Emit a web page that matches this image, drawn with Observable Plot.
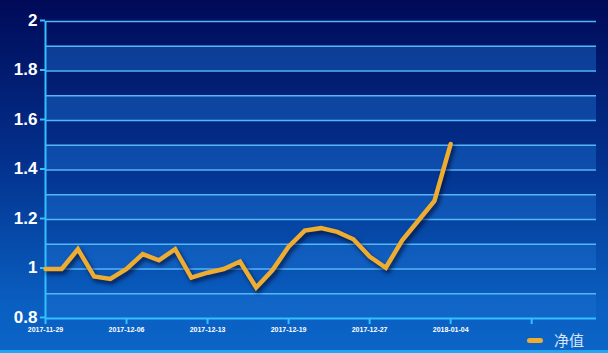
<!DOCTYPE html>
<html>
<head>
<meta charset="utf-8">
<script src="https://cdn.jsdelivr.net/npm/d3@7"></script>
<script src="https://cdn.jsdelivr.net/npm/@observablehq/plot@0.6"></script>
<style>
  html, body { margin: 0; padding: 0; }
  body { width: 608px; height: 353px; overflow: hidden; }
  #wrap {
    position: relative; width: 608px; height: 353px;
    background: linear-gradient(to bottom, #000a58 0%, #03308c 45%, #0a60c2 88%, #0b64c6 100%);
    box-sizing: border-box; border-bottom: 3px solid #1ea6f2;
    font-family: "Liberation Sans", Arial, sans-serif;
  }
  #wrap svg { position: absolute; left: 0; top: 0; background: transparent; }
  #wrap svg g[aria-label="line"] path { filter: drop-shadow(2px 3px 2px rgba(0, 5, 40, 0.7)); }
  #legend { position: absolute; left: 527px; top: 331px; display: flex; align-items: center; }
  #legend .sw { width: 16px; height: 5px; border-radius: 3px; background: #eeac30; margin-right: 11px; }
  #legend .tx { font-family: "Noto Sans CJK SC", sans-serif; font-size: 15px; color: #d8e4ff; line-height: 18px; }
</style>
</head>
<body>
<div id="wrap"><div id="legend"><div class="sw"></div><div class="tx">净值</div></div></div>
<script>
const seriesName = "净值";
const dateLabels = ["2017-11-29", "2017-12-06", "2017-12-13", "2017-12-19", "2017-12-27", "2018-01-04", ""];
const dateTickIndex = [0, 5, 10, 15, 20, 25, 30];
const values = [1.00, 1.00, 1.08, 0.97, 0.96, 1.00, 1.06, 1.035, 1.08, 0.965, 0.985, 1.00, 1.03, 0.925, 0.995,
                1.09, 1.155, 1.165, 1.15, 1.12, 1.05, 1.005, 1.115, 1.195, 1.275, 1.505];
const categoryCount = 35;
const yTicks = [0.8, 1, 1.2, 1.4, 1.6, 1.8, 2];
const gridLines = [0.9, 1.0, 1.1, 1.2, 1.3, 1.4, 1.5, 1.6, 1.7, 1.8, 1.9, 2.0];
const bands = [[0.8, 0.9], [1.0, 1.1], [1.2, 1.3], [1.4, 1.5], [1.6, 1.7], [1.8, 1.9]];

const data = values.map((v, i) => ({i, v}));
const xMax = categoryCount - 1;
const tickLabel = new Map(dateTickIndex.map((t, k) => [t, dateLabels[k]]));

const chart = Plot.plot({
  width: 608,
  height: 353,
  marginLeft: 45,
  marginRight: 12,
  marginTop: 21,
  marginBottom: 35,
  style: {background: "transparent", overflow: "visible", fontFamily: "'Liberation Sans', Arial, sans-serif"},
  x: {domain: [0, xMax]},
  y: {domain: [0.8, 2]},
  marks: [
    Plot.rect(bands, {x1: () => 0, x2: () => xMax, y1: d => d[0], y2: d => d[1], fill: "#1a6fd0", fillOpacity: 0.45}),
    Plot.ruleY(gridLines, {x1: 0, x2: xMax, stroke: "#55b6f6", strokeWidth: 1.3}),
    Plot.ruleX([0], {y1: 0.8, y2: 2, stroke: "#32c0ff", strokeWidth: 2}),
    Plot.ruleY([0.8], {x1: 0, x2: xMax, stroke: "#32c0ff", strokeWidth: 2}),
    Plot.axisY({ticks: yTicks, tickSize: 5, tickPadding: 3, stroke: "#32c0ff", strokeWidth: 2,
      fill: "white", fontSize: 17, fontWeight: "bold", label: null, tickFormat: d => String(d), dy: -1}),
    Plot.axisX({ticks: dateTickIndex, tickSize: 6, tickPadding: 3, stroke: "#32c0ff", strokeWidth: 2,
      fill: "white", fontSize: 7, fontWeight: "bold", label: null, tickFormat: d => tickLabel.get(d)}),
    Plot.line(data, {x: "i", y: "v", stroke: "#eeac30", strokeWidth: 4.5, strokeLinejoin: "miter", strokeMiterlimit: 4})
  ]
});
document.getElementById("wrap").prepend(chart);
</script>
</body>
</html>
